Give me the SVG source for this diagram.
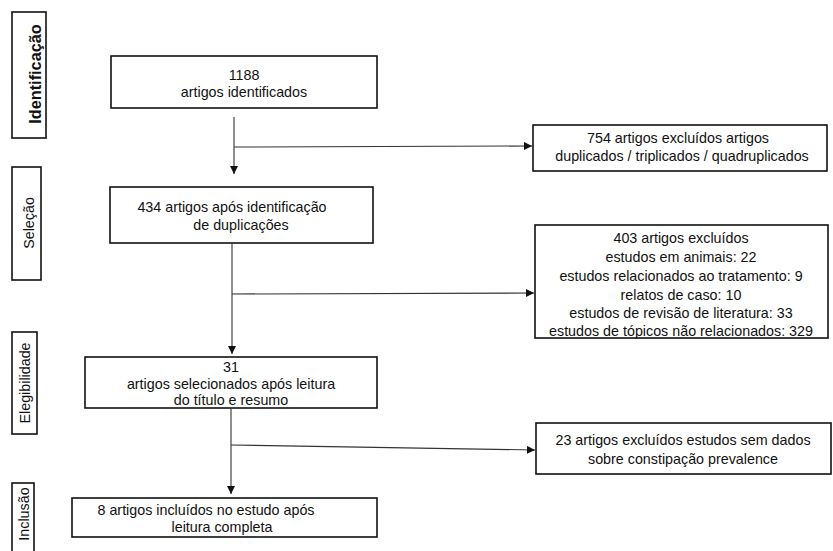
<svg xmlns="http://www.w3.org/2000/svg" width="833" height="551" viewBox="0 0 833 551">
<defs>
<marker id="ah" viewBox="0 0 10 10" refX="10" refY="5" markerWidth="8" markerHeight="8" markerUnits="userSpaceOnUse" orient="auto">
<path d="M0,0 L10,5 L0,10 z" fill="#111"/>
</marker>
<style>
.box{fill:#fff;stroke:#111;stroke-width:1.6}
.t{font-family:"Liberation Sans",Arial,sans-serif;font-size:14.3px;fill:#111;text-anchor:middle}
.b{font-weight:bold}
.c{fill:none;stroke:#333;stroke-width:1.1}
.a{marker-end:url(#ah)}
</style>
</defs>
<rect width="833" height="551" fill="#fff"/>
<g id="stage-identificacao">
<rect class="box" x="12" y="12" width="34" height="126"/>
<text class="t b" style="font-size:16.3px" transform="translate(41,74) rotate(-90)">Identificação</text>
</g>
<g id="stage-selecao">
<rect class="box" x="12" y="167" width="29" height="113"/>
<text class="t" transform="translate(34,223) rotate(-90)">Seleção</text>
</g>
<g id="stage-elegibilidade">
<rect class="box" x="12" y="332" width="25" height="102"/>
<text class="t" transform="translate(30,383) rotate(-90)">Elegibilidade</text>
</g>
<g id="stage-inclusao">
<rect class="box" x="12" y="483" width="22" height="80"/>
<text class="t" transform="translate(29,514) rotate(-90)">Inclusão</text>
</g>
<g id="n1">
<rect class="box" x="111" y="56" width="266" height="52"/>
<text class="t" x="244" y="80">1188</text>
<text class="t" x="244" y="97">artigos identificados</text>
</g>
<g id="n2">
<rect class="box" x="110" y="187" width="263" height="56"/>
<text class="t" x="232" y="212">434 artigos após identificação</text>
<text class="t" x="241" y="230">de duplicações</text>
</g>
<g id="n3">
<rect class="box" x="85" y="357" width="292" height="51"/>
<text class="t" x="231" y="372">31</text>
<text class="t" x="231" y="389">artigos selecionados após leitura</text>
<text class="t" x="231" y="405">do título e resumo</text>
</g>
<g id="n4">
<rect class="box" x="72" y="498" width="305" height="39"/>
<text class="t" x="206" y="515">8 artigos incluídos no estudo após</text>
<text class="t" x="222" y="532">leitura completa</text>
</g>
<g id="x1">
<rect class="box" x="533" y="125" width="294" height="46"/>
<text class="t" x="678" y="143">754 artigos excluídos artigos</text>
<text class="t" x="682" y="161">duplicados / triplicados / quadruplicados</text>
</g>
<g id="x2">
<rect class="box" x="535" y="225" width="293" height="113"/>
<text class="t" x="681" y="243">403 artigos excluídos</text>
<text class="t" x="681" y="262">estudos em animais: 22</text>
<text class="t" x="681" y="281">estudos relacionados ao tratamento: 9</text>
<text class="t" x="681" y="300">relatos de caso: 10</text>
<text class="t" x="681" y="318">estudos de revisão de literatura: 33</text>
<text class="t" x="681" y="336">estudos de tópicos não relacionados: 329</text>
</g>
<g id="x3">
<rect class="box" x="536" y="423" width="295" height="51"/>
<text class="t" x="683" y="445">23 artigos excluídos estudos sem dados</text>
<text class="t" x="683" y="464">sobre constipação prevalence</text>
</g>
<g id="connectors">
<path class="c a" d="M234,117 L234,174"/>
<path class="c a" d="M234,147 L532,146"/>
<path class="c a" d="M232,243 L232,354"/>
<path class="c a" d="M232,294 L534,293"/>
<path class="c a" d="M231,408 L231,494"/>
<path class="c a" d="M231,445 L535,450"/>
</g>
</svg>
